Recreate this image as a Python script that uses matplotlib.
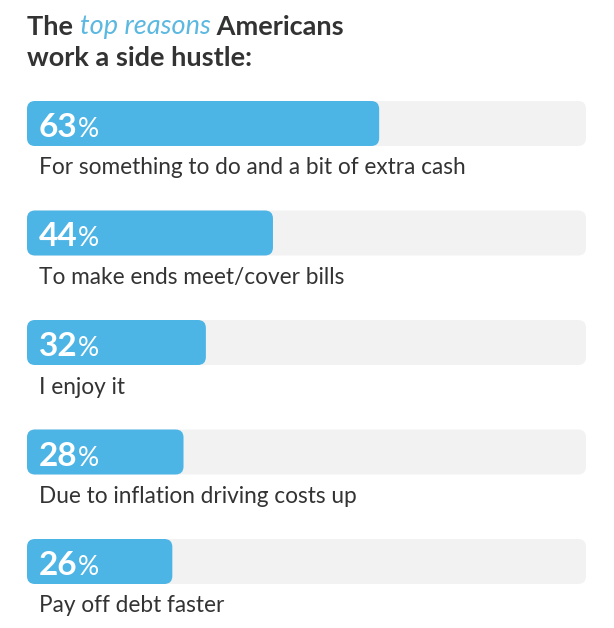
import matplotlib
matplotlib.use("Agg")
import matplotlib.pyplot as plt
from matplotlib.patches import FancyBboxPatch

reasons = ["For something to do and a bit of extra cash",
           "To make ends meet/cover bills",
           "I enjoy it",
           "Due to inflation driving costs up",
           "Pay off debt faster"]
values = [63, 44, 32, 28, 26]

W, H = 614, 628
fig = plt.figure(figsize=(W/100, H/100), dpi=100)
x0, x1 = 27, 586
ax = fig.add_axes([x0/W, 0, (x1-x0)/W, 1])
ax.set_xlim(0, 100)
ax.set_ylim(H, 0)
ax.axis("off")
pxx = (x1-x0)/100.0
r = 8/pxx
blue, track, dark = "#4db5e6", "#f2f2f2", "#333333"
font = "Lato"
tops = [101, 210.5, 320, 429.5, 539]
bh = 45
for top, v, lab in zip(tops, values, reasons):
    ax.add_patch(FancyBboxPatch((0, top), 100, bh, boxstyle=f"round,pad=0,rounding_size={r}",
                                mutation_aspect=pxx, fc=track, ec="none"))
    ax.add_patch(FancyBboxPatch((0, top), v, bh, boxstyle=f"round,pad=0,rounding_size={r}",
                                mutation_aspect=pxx, fc=blue, ec="none"))
    t = ax.text(12/pxx, top+bh/2+4, f"{v}", color="white", fontsize=24, fontweight="bold",
                family=font, va="center", ha="left")
    ax.annotate("%", xy=(1, 0), xycoords=t, color="white", fontsize=19, family=font,
                va="bottom", ha="left")
    ax.text(12/pxx, top+bh+22, lab, color=dark, fontsize=16.3, family=font, va="center", ha="left")

t1 = fig.text(27/W, 1-27/H, "The ", fontsize=19.5, fontweight="bold", color=dark, family=font, va="center")
a2 = ax.annotate("top reasons", xy=(1, 0), xycoords=t1, fontsize=19.5, fontstyle="italic",
                 color="#5bb8e0", family=font, va="bottom")
ax.annotate(" Americans", xy=(1, 0), xycoords=a2, fontsize=19.5, fontweight="bold",
            color=dark, family=font, va="bottom")
fig.text(27/W, 1-58/H, "work a side hustle:", fontsize=19.5, fontweight="bold", color=dark,
         family=font, va="center")
fig.savefig("out.png", dpi=100, facecolor="white")
